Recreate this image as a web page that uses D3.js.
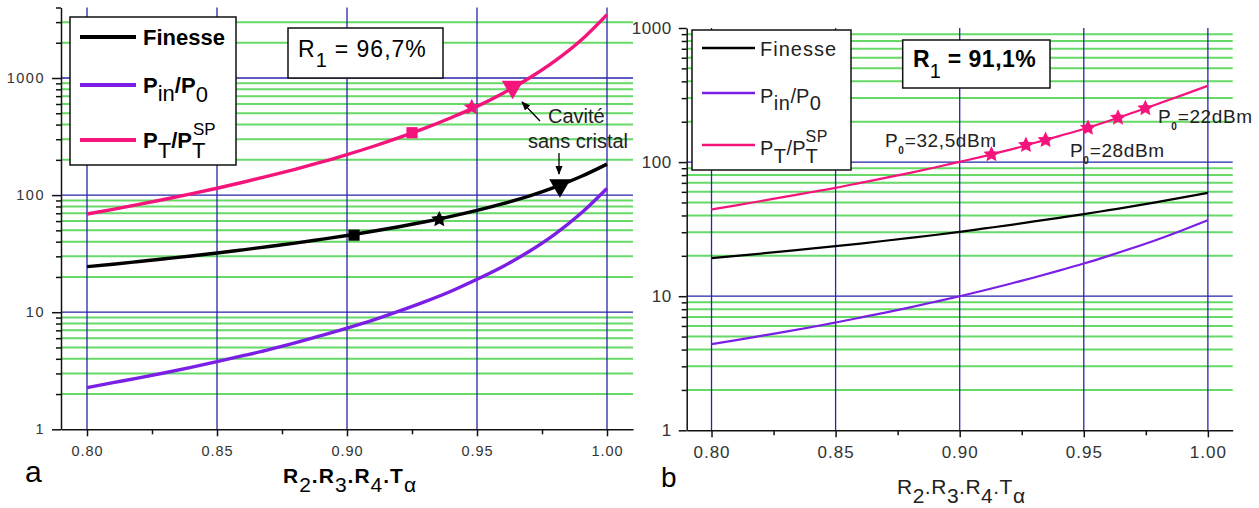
<!DOCTYPE html>
<html><head><meta charset="utf-8">
<script src="https://cdn.jsdelivr.net/npm/d3@7"></script>
<style>
body{margin:0;background:#fff}
svg{display:block}
text{font-family:"Liberation Sans",Arial,sans-serif}
</style>
</head><body>
<svg id="c" width="1259" height="508"></svg>
<script>
// ---------------- DATA ----------------
const xValues = [0.80,0.81,0.82,0.83,0.84,0.85,0.86,0.87,0.88,0.89,0.90,0.91,0.92,0.93,0.94,0.95,0.96,0.97,0.98,0.99,1.00];
// Panel a (R1 = 96,7%)
const finesseA = [24.5,25.7,27.1,28.6,30.2,32.0,34.1,36.4,38.9,41.9,45.2,49.1,53.7,59.2,65.8,74.0,84.5,98.0,117,144,184];
const pinA     = [2.27,2.50,2.75,3.04,3.38,3.78,4.25,4.80,5.48,6.30,7.30,8.55,10.2,12.3,15.1,19.1,24.6,33.0,46.5,70,114];
const ptA      = [69,75.6,83.3,92.2,102.5,114.5,128.8,145.7,166,191,222,260,309,373,458,572,742,995,1400,2100,3480];
// Panel b (R1 = 91,1%)
const finesseB = [19.2,20.0,20.8,21.7,22.6,23.6,24.7,25.9,27.2,28.6,30.2,32.0,33.9,36.1,38.4,40.9,43.8,46.9,50.5,54.5,59.0];
const pinB     = [4.39,4.71,5.06,5.44,5.87,6.37,6.93,7.55,8.26,9.08,10.0,11.07,12.33,13.80,15.52,17.54,20.0,22.96,26.6,31.2,36.9];
const ptB      = [44.4,47.6,51.3,55.2,59.6,64.3,70.0,76.2,83.2,91.2,100.5,110.9,123.3,138.7,156.3,176.6,202.3,234.4,272.3,317,371];
// markers panel a
const ptMarkX  = [0.925, 0.948, 0.9637];
const ptMarkY  = [341, 562, 840];
const finMarkX = [0.9027, 0.9355, 0.9819];
const finMarkY = [45.5, 62, 121];
const markShapes = ["square","star","triangle"];
// stars panel b
const starX = [0.9128,0.9267,0.9346,0.9517,0.9638,0.9748];
const starY = [114,134,146,180,214,252];
const powerLabels = ["=32,5dBm","=28dBm","=22dBm"];
// ticks
const xTicks = [0.80,0.85,0.90,0.95,1.00];
const xMinorTicks = [0.825,0.875,0.925,0.975];
const yMajorTicks = [1,10,100,1000];

// ---------------- STYLE ----------------
const BLACK="#000", PURPLE="#7b1fe6", PINK="#f4147c", BLUE="#2626a8", GREEN="#66d966";
const svg = d3.select('#c');

function rich(g, x, y, segs, fill) {
  let cx = x;
  segs.forEach(s => {
    const t = g.append('text')
      .attr('x', cx + (s.dx||0)).attr('y', y + (s.dy||0))
      .style('font-size', s.size+'px').style('font-weight', s.w||'normal')
      .style('letter-spacing', (s.ls||0)+'px')
      .attr('fill', fill||'#000').text(s.t);
    if (!s.noAdv) cx += t.node().getComputedTextLength() + (s.dx||0);
  });
  return cx;
}

// chunky 5-point star (outer radius from size)
const fatStar = {
  draw(ctx, size) {
    const R = Math.sqrt(size), r = R * 0.48;
    for (let i = 0; i < 10; i++) {
      const a = -Math.PI/2 + i * Math.PI/5, rr = i % 2 ? r : R;
      const px = rr * Math.cos(a), py = rr * Math.sin(a);
      if (i === 0) ctx.moveTo(px, py); else ctx.lineTo(px, py);
    }
    ctx.closePath();
  }
};

function symbolPath(shape) {
  if (shape==="square") return d3.symbol(d3.symbolSquare, 125)();
  if (shape==="star") return d3.symbol(fatStar, 72)();
  return d3.symbol(d3.symbolTriangle, 200)();
}

function panel(cfg) {
  const g = svg.append('g');
  const x = d3.scaleLinear().domain([0.79,1.01]).range([cfg.x0, cfg.x1]);
  const y = d3.scaleLog().domain(cfg.yDomain).range([cfg.yB, cfg.yT]);
  const minors = [];
  yMajorTicks.forEach(d => [2,3,4,5,6,7,8,9].forEach(m => { if (d*m <= cfg.yDomain[1]) minors.push(d*m); }));
  // green grid
  g.append('g').selectAll('line').data(minors.filter(v => v < cfg.yDomain[1])).enter().append('line')
    .attr('x1', cfg.x0).attr('x2', cfg.x1).attr('y1', d=>y(d)).attr('y2', d=>y(d))
    .attr('stroke', GREEN).attr('stroke-width', 2);
  // blue grid
  g.append('g').selectAll('line').data(yMajorTicks.filter(v => v>1 && v < cfg.yDomain[1])).enter().append('line')
    .attr('x1', cfg.x0).attr('x2', cfg.x1).attr('y1', d=>y(d)).attr('y2', d=>y(d))
    .attr('stroke', BLUE).attr('stroke-width', 1.3);
  g.append('g').selectAll('line').data(xTicks).enter().append('line')
    .attr('x1', d=>x(d)).attr('x2', d=>x(d)).attr('y1', cfg.yT).attr('y2', cfg.yB)
    .attr('stroke', BLUE).attr('stroke-width', 1.3);
  // axes
  const styleAxis = (a, fs, ls) => {
    a.attr('font-family', '"Liberation Sans",Arial,sans-serif').attr('font-size', fs);
    a.selectAll('path,line').attr('stroke', '#111').attr('stroke-width', 1.5);
    a.selectAll('text').attr('fill', '#333').style('letter-spacing', ls+'px');
  };
  const ay = g.append('g').attr('transform', `translate(${cfg.x0},0)`)
    .call(d3.axisLeft(y).tickValues(yMajorTicks).tickFormat(d=>String(d)).tickSizeInner(cfg.yTick).tickSizeOuter(0).tickPadding(7));
  styleAxis(ay, cfg.tfs, cfg.yls);
  const aym = g.append('g').attr('transform', `translate(${cfg.x0},0)`)
    .call(d3.axisLeft(y).tickValues(minors).tickFormat('').tickSize(5));
  aym.select('.domain').remove(); styleAxis(aym, cfg.tfs, 0);
  const ax = g.append('g').attr('transform', `translate(0,${cfg.yB})`)
    .call(d3.axisBottom(x).tickValues(xTicks).tickFormat(d3.format('.2f')).tickSizeInner(7).tickSizeOuter(0).tickPadding(9));
  styleAxis(ax, cfg.tfs, cfg.xls);
  const axm = g.append('g').attr('transform', `translate(0,${cfg.yB})`)
    .call(d3.axisBottom(x).tickValues(xMinorTicks).tickFormat('').tickSize(5));
  axm.select('.domain').remove(); styleAxis(axm, cfg.tfs, 0);
  // curves
  const line = d3.line().x((d,i)=>x(xValues[i])).y(d=>y(d)).curve(d3.curveMonotoneX);
  [[cfg.pin, PURPLE],[cfg.fin, BLACK],[cfg.pt, PINK]].forEach(([arr,col]) => {
    g.append('path').attr('d', line(arr)).attr('fill','none').attr('stroke',col)
      .attr('stroke-width', cfg.lw).attr('stroke-linejoin','round');
  });
  return {g, x, y};
}

// ---------------- PANEL A ----------------
const A = panel({x0:61, x1:633, yT:7.5, yB:429.3, yDomain:[1,4000], yTick:9, tfs:14.5, yls:1.5, xls:1,
  fin:finesseA, pin:pinA, pt:ptA, lw:3.4});
const drawMarks = (xs, ys, col) => xs.forEach((mx,i) => {
  const s = markShapes[i];
  A.g.append('path').attr('d', symbolPath(s))
    .attr('transform', `translate(${A.x(mx)},${A.y(ys[i])})${s==="triangle"?" rotate(180)":""}`)
    .attr('fill', col);
});
drawMarks(ptMarkX, ptMarkY, PINK);
drawMarks(finMarkX, finMarkY, BLACK);
// legend a
A.g.append('rect').attr('x',70).attr('y',17).attr('width',166).attr('height',148).attr('fill','#fff').attr('stroke','#111').attr('stroke-width',1.5);
[[37,BLACK],[85,PURPLE],[140,PINK]].forEach(([yy,c]) =>
  A.g.append('line').attr('x1',80).attr('x2',136).attr('y1',yy).attr('y2',yy).attr('stroke',c).attr('stroke-width',4));
rich(A.g, 143, 45, [{t:'Finesse', size:22, w:'bold'}]);
rich(A.g, 143, 92.5, [{t:'P',size:22,w:'bold'},{t:'in',size:22,dy:8},{t:'/',size:22,w:'bold'},{t:'P',size:22,w:'bold'},{t:'0',size:22,dy:9}]);
rich(A.g, 143, 147.5, [{t:'P',size:22,w:'bold'},{t:'T',size:22,dy:10},{t:'/',size:22,w:'bold'},{t:'P',size:22,w:'bold'},{t:'SP',size:17,dy:-13,dx:1,noAdv:true},{t:'T',size:22,dy:10}]);
// R1 box a
A.g.append('rect').attr('x',288).attr('y',28).attr('width',155).attr('height',50).attr('fill','#fff').attr('stroke','#111').attr('stroke-width',1.5);
rich(A.g, 298, 57, [{t:'R',size:23,ls:1},{t:'1',size:20,dy:10},{t:'= 96,7%',size:23,ls:1,dx:8}]);
// annotation
const defs = svg.append('defs');
defs.append('marker').attr('id','ah').attr('viewBox','0 0 10 10').attr('refX',9).attr('refY',5)
  .attr('markerWidth',7).attr('markerHeight',7).attr('orient','auto-start-reverse')
  .append('path').attr('d','M0,1 L10,5 L0,9 Z').attr('fill','#000');
A.g.append('text').attr('x',548).attr('y',123).style('font-size','20px').attr('fill','#222').text('Cavité');
A.g.append('text').attr('x',528).attr('y',148).style('font-size','20px').attr('fill','#222').text('sans cristal');
A.g.append('line').attr('x1',540).attr('y1',121).attr('x2',522).attr('y2',102).attr('stroke','#000').attr('stroke-width',1.3).attr('marker-end','url(#ah)');
A.g.append('line').attr('x1',559).attr('y1',153).attr('x2',559).attr('y2',174).attr('stroke','#000').attr('stroke-width',1.3).attr('marker-end','url(#ah)');
// axis title + panel label
rich(A.g, 283, 483, [{t:'R',size:21,w:'bold',ls:1},{t:'2',size:21,dy:9,ls:1},{t:'.',size:21,w:'bold',ls:1},
  {t:'R',size:21,w:'bold',ls:1},{t:'3',size:21,dy:9,ls:1},{t:'.',size:21,w:'bold',ls:1},
  {t:'R',size:21,w:'bold',ls:1},{t:'4',size:21,dy:9,ls:1},{t:'.',size:21,w:'bold',ls:1},
  {t:'T',size:21,w:'bold',ls:1},{t:'α',size:21,dy:9}]);
A.g.append('text').attr('x',25).attr('y',482).style('font-size','30px').text('a');

// ---------------- PANEL B ----------------
const B = panel({x0:686.7, x1:1232.7, yT:28, yB:430.3, yDomain:[1,1000], yTick:8, tfs:17, yls:0.5, xls:1,
  fin:finesseB, pin:pinB, pt:ptB, lw:2.2});
starX.forEach((sx,i) => {
  B.g.append('path').attr('d', d3.symbol(fatStar, 72)()).attr('transform', `translate(${B.x(sx)},${B.y(starY[i])})`).attr('fill', PINK);
});
// power labels
const plPos = [[885,147.3],[1070,156.7],[1158,123.3]];
plPos.forEach(([px,py],i) => {
  rich(B.g, px, py, [{t:'P',size:19,ls:0.5},{t:'0',size:10,dy:7,w:'bold'},{t:powerLabels[i],size:19,ls:0.6,dx:1}], '#222');
});
// legend b
B.g.append('rect').attr('x',692).attr('y',30).attr('width',159).attr('height',140).attr('fill','#fff').attr('stroke','#111').attr('stroke-width',1.5);
[[48,BLACK],[93,PURPLE],[145,PINK]].forEach(([yy,c]) =>
  B.g.append('line').attr('x1',702).attr('x2',755).attr('y1',yy).attr('y2',yy).attr('stroke',c).attr('stroke-width',2.5));
rich(B.g, 760, 56, [{t:'Finesse', size:20, ls:1}], '#222');
rich(B.g, 760, 103, [{t:'P',size:20,ls:0.5},{t:'in',size:20,dy:7,ls:0.5},{t:'/',size:20},{t:'P',size:20,ls:0.5},{t:'0',size:20,dy:7}], '#222');
rich(B.g, 760, 155, [{t:'P',size:20,ls:0.5},{t:'T',size:20,dy:8,ls:0.5},{t:'/',size:20},{t:'P',size:20},{t:'SP',size:16,dy:-13,noAdv:true,ls:0.5},{t:'T',size:20,dy:8}], '#222');
// R1 box b
B.g.append('rect').attr('x',902.7).attr('y',40).attr('width',147.3).attr('height',48).attr('fill','#fff').attr('stroke','#111').attr('stroke-width',1.5);
rich(B.g, 913, 67, [{t:'R',size:23,w:'bold'},{t:'1',size:20,dy:11},{t:'= 91,1%',size:23,w:'bold',ls:0.5,dx:7}]);
// axis title + label
rich(B.g, 897, 494, [{t:'R',size:21,ls:0.5},{t:'2',size:21,dy:9,ls:0.5},{t:'.',size:21,ls:0.5},
  {t:'R',size:21,ls:0.5},{t:'3',size:21,dy:9,ls:0.5},{t:'.',size:21,ls:0.5},
  {t:'R',size:21,ls:0.5},{t:'4',size:21,dy:9,ls:0.5},{t:'.',size:21,ls:0.5},
  {t:'T',size:21,ls:0.5},{t:'α',size:21,dy:9}], '#222');
B.g.append('text').attr('x',661).attr('y',487).style('font-size','28px').text('b');
</script>
</body></html>
